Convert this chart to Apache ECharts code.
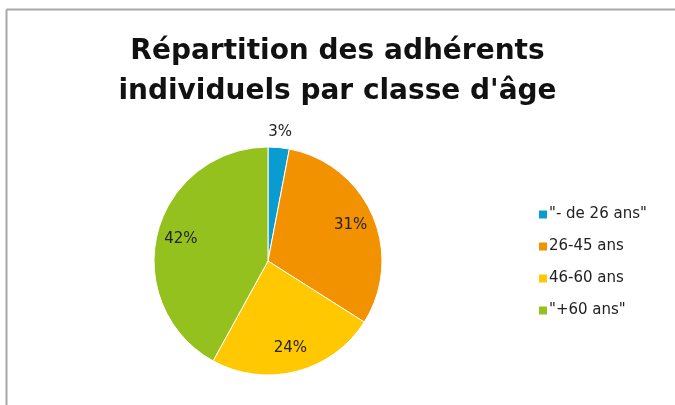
<!DOCTYPE html>
<html>
<head>
<meta charset="utf-8">
<script src="https://cdn.jsdelivr.net/npm/echarts@6/dist/echarts.min.js"></script>
<style>
  html, body { margin: 0; padding: 0; background: #fff; }
  #chart-container { width: 675px; height: 405px; }
</style>
</head>
<body>
<div id="chart-container"></div>
<script>
const categories = ['"- de 26 ans"', '26-45 ans', '46-60 ans', '"+60 ans"'];
const shares = [3, 31, 24, 42];
const sliceColors = ['#0b9ccf', '#f29200', '#ffc800', '#95c11f'];

const chartContainer = document.getElementById('chart-container');
const myChart = echarts.init(chartContainer);

const fontFamily = '"Century Gothic", "DejaVu Sans", sans-serif';

const pieData = categories.map((name, i) => ({
    name: name,
    value: shares[i],
    itemStyle: { color: sliceColors[i] }
}));

// transparent rings only used to place the percentage labels
const innerLabelData = categories.map((name, i) => ({
    name: name,
    value: shares[i],
    label: { show: i !== 0 }
}));
const outerLabelData = categories.map((name, i) => ({
    name: name,
    value: shares[i],
    label: { show: i === 0 }
}));

const labelStyle = {
    position: 'inside',
    formatter: '{c}%',
    fontFamily: fontFamily,
    fontSize: 15,
    color: '#222'
};

const options = {
    backgroundColor: '#ffffff',
    animation: false,
    title: {
        text: 'Répartition des adhérents\nindividuels par classe d\'âge',
        left: 'center',
        top: 27,
        textStyle: {
            fontFamily: fontFamily,
            fontSize: 28,
            fontWeight: 'bold',
            color: '#111',
            lineHeight: 40
        }
    },
    legend: {
        orient: 'vertical',
        left: 532,
        top: 202,
        itemWidth: 10,
        itemHeight: 10,
        itemGap: 17,
        icon: 'rect',
        data: categories,
        textStyle: {
            fontFamily: fontFamily,
            fontSize: 15,
            color: '#222',
            padding: [0, 0, 0, -4]
        }
    },
    graphic: [
        { type: 'line', shape: { x1: 6.5, y1: 9.5, x2: 675, y2: 9.5 }, style: { stroke: '#a8a8a8', lineWidth: 2 } },
        { type: 'line', shape: { x1: 6.5, y1: 9.5, x2: 6.5, y2: 405 }, style: { stroke: '#a8a8a8', lineWidth: 2 } }
    ],
    series: [
        {
            name: 'Répartition',
            type: 'pie',
            center: [268, 261],
            radius: [0, 114],
            startAngle: 90,
            clockwise: true,
            silent: true,
            itemStyle: { borderColor: '#ffffff', borderWidth: 1 },
            label: { show: false },
            labelLine: { show: false },
            data: pieData
        },
        {
            name: 'labels-inner',
            type: 'pie',
            center: [268, 261],
            radius: [73, 101],
            startAngle: 90,
            clockwise: true,
            silent: true,
            itemStyle: { color: 'rgba(0,0,0,0)', borderWidth: 0 },
            label: labelStyle,
            labelLine: { show: false },
            data: innerLabelData
        },
        {
            name: 'labels-outer',
            type: 'pie',
            center: [268, 261],
            radius: [116, 136],
            startAngle: 90,
            clockwise: true,
            silent: true,
            itemStyle: { color: 'rgba(0,0,0,0)', borderWidth: 0 },
            label: labelStyle,
            labelLine: { show: false },
            data: outerLabelData
        }
    ]
};

myChart.setOption(options);
</script>
</body>
</html>
